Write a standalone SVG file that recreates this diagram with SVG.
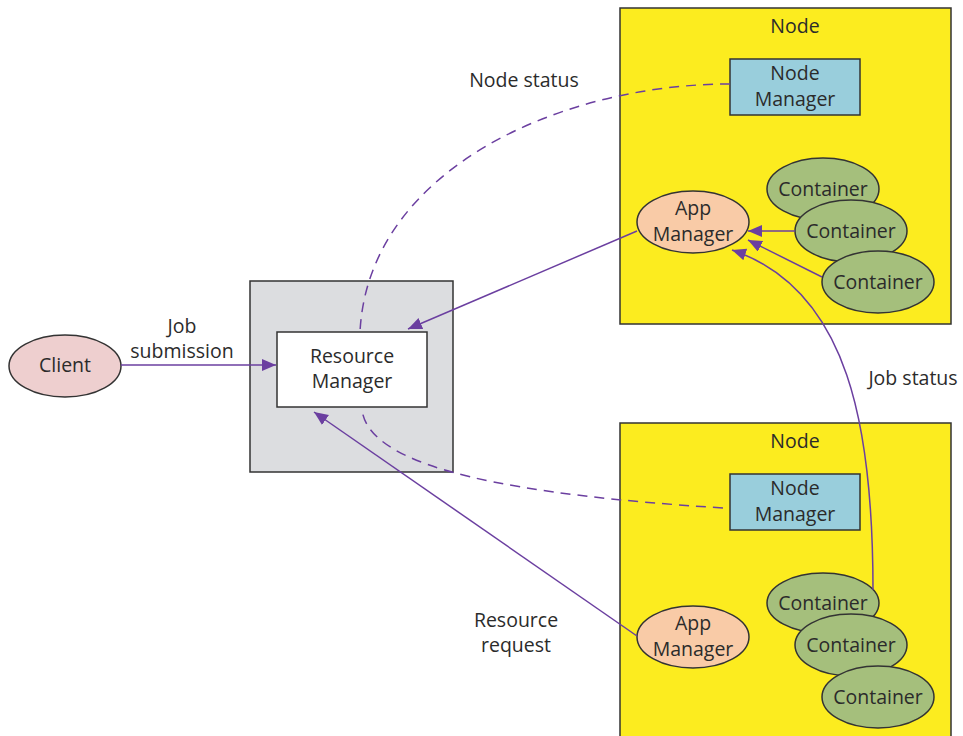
<svg xmlns="http://www.w3.org/2000/svg" width="963" height="736" viewBox="0 0 963 736">
<style>
text{font-family:"Open Sans","Liberation Sans",sans-serif;font-size:19.5px;fill:#2b2b2b;text-anchor:middle}
.box{stroke:#333;stroke-width:1.5}
.node{fill:#fcec1f}
.nm{fill:#99cedc}
.ct{fill:#a5bf7c}
.am{fill:#f9cba7}
.ln{fill:none;stroke:#6b3fa0;stroke-width:1.5}
.dash{stroke-dasharray:10 7}
</style>
<defs>
<marker id="ah" markerUnits="userSpaceOnUse" markerWidth="16" markerHeight="14" refX="14" refY="6" orient="auto">
<path d="M0,0 L14,6 L0,12 Z" fill="#6b3fa0"/>
</marker>
</defs>
<rect width="963" height="736" fill="#fff"/>
<g id="rm-host">
<rect class="box" x="250" y="281" width="203" height="191" fill="#dcdde0"/>
</g>
<g id="node-top">
<rect class="box node" x="620" y="8" width="331" height="316"/>
<text x="795" y="33">Node</text>
</g>
<g id="node-bottom">
<rect class="box node" x="620" y="423" width="331" height="320"/>
<text x="795" y="448">Node</text>
</g>
<g id="nm-top">
<rect class="box nm" x="730" y="59" width="130" height="56"/>
<text x="795" y="80">Node</text>
<text x="795" y="106">Manager</text>
</g>
<g id="nm-bottom">
<rect class="box nm" x="730" y="474" width="130" height="56"/>
<text x="795" y="495">Node</text>
<text x="795" y="521">Manager</text>
</g>
<g id="ct-top-1">
<ellipse class="box ct" cx="823" cy="189" rx="56" ry="31"/>
<text x="823" y="196">Container</text>
</g>
<g id="ct-top-2">
<ellipse class="box ct" cx="851" cy="231" rx="56" ry="31"/>
<text x="851" y="238">Container</text>
</g>
<g id="ct-top-3">
<ellipse class="box ct" cx="878" cy="282" rx="56" ry="31"/>
<text x="878" y="289">Container</text>
</g>
<g id="am-top">
<ellipse class="box am" cx="693" cy="222" rx="56" ry="31"/>
<text x="693" y="215">App</text>
<text x="693" y="241">Manager</text>
</g>
<g id="ct-bot-1">
<ellipse class="box ct" cx="823" cy="603" rx="56" ry="30"/>
<text x="823" y="610">Container</text>
</g>
<g id="ct-bot-2">
<ellipse class="box ct" cx="851" cy="645" rx="56" ry="31"/>
<text x="851" y="652">Container</text>
</g>
<g id="ct-bot-3">
<ellipse class="box ct" cx="878" cy="697" rx="56" ry="31"/>
<text x="878" y="704">Container</text>
</g>
<g id="am-bottom">
<ellipse class="box am" cx="693" cy="637" rx="56" ry="31"/>
<text x="693" y="630">App</text>
<text x="693" y="656">Manager</text>
</g>
<g id="resource-manager">
<rect class="box" x="277" y="332" width="150" height="75" fill="#fff"/>
<text x="352" y="363">Resource</text>
<text x="352" y="388">Manager</text>
</g>
<g id="client">
<ellipse class="box" cx="65" cy="366" rx="56" ry="31" fill="#eecfcf"/>
<text x="65" y="372">Client</text>
</g>
<g id="connectors">
<path class="ln" d="M121,365 L276,365" marker-end="url(#ah)"/>
<path class="ln" d="M637,231 L408,329" marker-end="url(#ah)"/>
<path class="ln" d="M637,636 L314,412" marker-end="url(#ah)"/>
<path class="ln" d="M795,231 L748,231" marker-end="url(#ah)"/>
<path class="ln" d="M822,277 L748,240" marker-end="url(#ah)"/>
<path class="ln" d="M873,590 C873,430 850,290 732,250" marker-end="url(#ah)"/>
<path class="ln dash" d="M730,84 C560,84 368,170 360,332"/>
<path class="ln dash" d="M723,508 C520,495 370,470 362,410"/>
</g>
<g id="labels">
<text x="182" y="333">Job</text>
<text x="182" y="358">submission</text>
<text x="524" y="87">Node status</text>
<text x="913" y="385">Job status</text>
<text x="516" y="627">Resource</text>
<text x="516" y="652">request</text>
</g>
</svg>
